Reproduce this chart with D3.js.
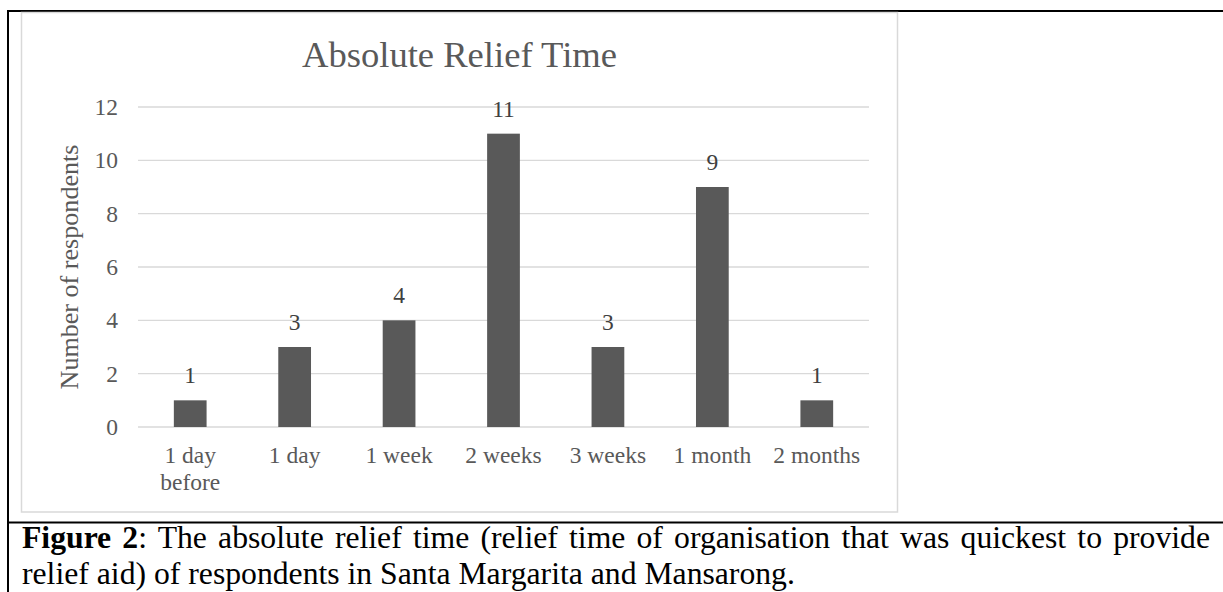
<!DOCTYPE html>
<html>
<head>
<meta charset="utf-8">
<script src="https://cdn.jsdelivr.net/npm/d3@7"></script>
<style>
  body { margin: 0; background: #fff; }
  #wrap { position: relative; width: 1223px; height: 592px; overflow: hidden; }
  #caption {
    position: absolute; left: 22px; width: 1188px; top: 520px;
    font-family: "Liberation Serif", "Times New Roman", serif;
    font-size: 31.7px; line-height: 36px; text-align: justify; color: #000;
  }
</style>
</head>
<body>
<div id="wrap"></div>
<script>
var categories = ["1 day before", "1 day", "1 week", "2 weeks", "3 weeks", "1 month", "2 months"];
var respondents = [1, 3, 4, 11, 3, 9, 1];
var yTicks = [0, 2, 4, 6, 8, 10, 12];
var chartTitle = "Absolute Relief Time";
var yTitle = "Number of respondents";
var captionBold = "Figure 2";
var captionText = ": The absolute relief time (relief time of organisation that was quickest to provide relief aid) of respondents in Santa Margarita and Mansarong.";

var W = 1223, H = 592;
var font = "'Liberation Serif', 'Times New Roman', serif";
var grey = "#595959";

var svg = d3.select("#wrap").append("svg")
  .attr("width", W)
  .attr("height", H)
  .style("position", "absolute")
  .style("left", 0)
  .style("top", 0);

// table cell borders
svg.append("line").attr("x1", 7).attr("x2", W).attr("y1", 11).attr("y2", 11)
  .attr("stroke", "#000").attr("stroke-width", 2);
svg.append("line").attr("x1", 8).attr("x2", 8).attr("y1", 10).attr("y2", H)
  .attr("stroke", "#000").attr("stroke-width", 2);
svg.append("line").attr("x1", 7).attr("x2", W).attr("y1", 522.5).attr("y2", 522.5)
  .attr("stroke", "#000").attr("stroke-width", 2);

// chart frame
svg.append("rect")
  .attr("x", 21.5).attr("y", 12.5)
  .attr("width", 876).attr("height", 499.5)
  .attr("fill", "#fff")
  .attr("stroke", "#d9d9d9")
  .attr("stroke-width", 1.5);

var x = d3.scaleBand()
  .domain(categories)
  .range([138, 869])
  .paddingInner(0.6865)
  .paddingOuter(0.6865 / 2);

var y = d3.scaleLinear().domain([0, 12]).range([427, 107]);

// gridlines
svg.append("g")
  .selectAll("line")
  .data(yTicks)
  .enter()
  .append("line")
  .attr("x1", 138)
  .attr("x2", 869)
  .attr("y1", function (d) { return y(d); })
  .attr("y2", function (d) { return y(d); })
  .attr("stroke", "#d9d9d9")
  .attr("stroke-width", 1.3);

// y tick labels
svg.append("g")
  .selectAll("text")
  .data(yTicks)
  .enter()
  .append("text")
  .attr("x", 118)
  .attr("y", function (d) { return y(d) + 8; })
  .attr("text-anchor", "end")
  .style("font-family", font)
  .style("font-size", "23.5px")
  .attr("fill", grey)
  .text(function (d) { return d; });

// bars
svg.append("g")
  .selectAll("rect")
  .data(respondents)
  .enter()
  .append("rect")
  .attr("x", function (d, i) { return x(categories[i]); })
  .attr("y", function (d) { return y(d); })
  .attr("width", x.bandwidth())
  .attr("height", function (d) { return y(0) - y(d); })
  .attr("fill", grey);

// data labels
svg.append("g")
  .selectAll("text")
  .data(respondents)
  .enter()
  .append("text")
  .attr("x", function (d, i) { return x(categories[i]) + x.bandwidth() / 2; })
  .attr("y", function (d) { return y(d) - 17; })
  .attr("text-anchor", "middle")
  .style("font-family", font)
  .style("font-size", "23.5px")
  .attr("fill", "#404040")
  .text(function (d) { return d; });

// category labels, wrapped to the band step
var step = x.step();
var catG = svg.append("g");
categories.forEach(function (c, i) {
  var t = catG.append("text")
    .attr("text-anchor", "middle")
    .style("font-family", font)
    .style("font-size", "23.5px")
    .attr("fill", grey);
  var cx = x(c) + x.bandwidth() / 2;
  var words = c.split(" ");
  var line = [];
  var lineNo = 0;
  var ts = t.append("tspan").attr("x", cx).attr("y", 463.3);
  words.forEach(function (w) {
    line.push(w);
    ts.text(line.join(" "));
    if (ts.node().getComputedTextLength() > step - 4 && line.length > 1) {
      line.pop();
      ts.text(line.join(" "));
      line = [w];
      lineNo++;
      ts = t.append("tspan").attr("x", cx).attr("y", 463.3 + lineNo * 26.7).text(w);
    }
  });
});

// y axis title
svg.append("text")
  .attr("transform", "translate(78,267) rotate(-90)")
  .attr("text-anchor", "middle")
  .style("font-family", font)
  .style("font-size", "26.1px")
  .attr("fill", grey)
  .text(yTitle);

// chart title
svg.append("text")
  .attr("x", 459.5)
  .attr("y", 66.7)
  .attr("text-anchor", "middle")
  .style("font-family", font)
  .style("font-size", "36.6px")
  .attr("fill", grey)
  .text(chartTitle);

// caption (one text node so the bold label and the rest sit in one flow)
var cap = d3.select("#wrap").append("div").attr("id", "caption");
cap.html("<b>" + captionBold + "</b>" + captionText);
</script>
</body>
</html>
